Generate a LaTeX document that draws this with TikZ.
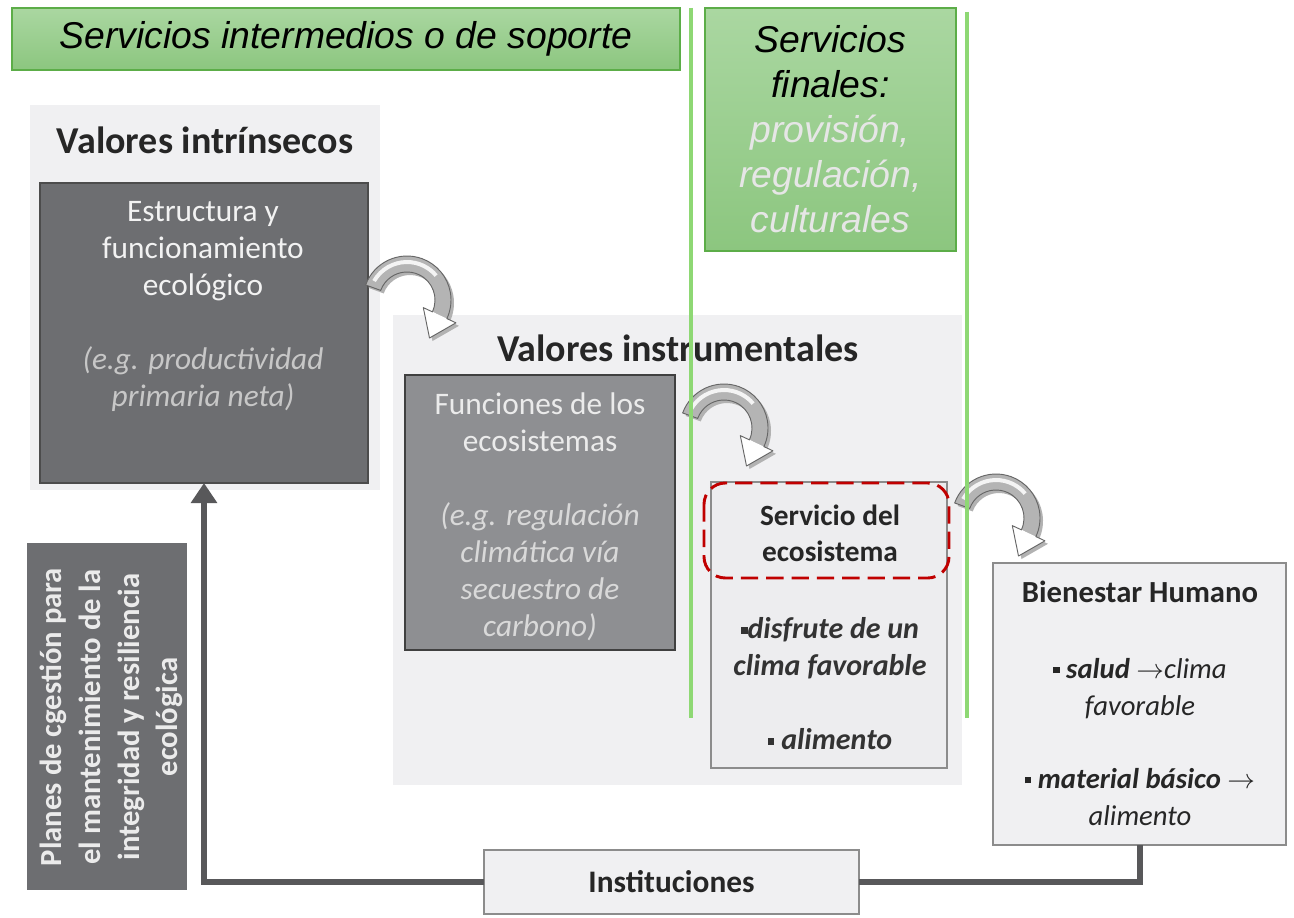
\documentclass[tikz,border=0pt]{standalone}
\usepackage{fontspec}
\setmainfont{Carlito}
\newfontfamily\arialf{Liberation Sans}
\usetikzlibrary{arrows.meta}
\definecolor{gfilltop}{HTML}{AAD7A1}
\definecolor{gfillbot}{HTML}{8CC67F}
\definecolor{gborder}{HTML}{5CAD48}
\definecolor{gline}{HTML}{8ED874}
\definecolor{darkbox}{HTML}{6D6E71}
\definecolor{midbox}{HTML}{8E8F92}
\definecolor{panelc}{HTML}{F0F0F2}
\definecolor{lightbox}{HTML}{EDEDEF}
\definecolor{connc}{HTML}{58585A}
\definecolor{redd}{HTML}{C00000}
\definecolor{palet}{HTML}{E6E6E6}
\definecolor{bandc}{HTML}{B4B4B4}
\newcommand{\sqb}{\raisebox{0.18em}{\rule{0.22em}{0.22em}}}
\begin{document}
\begin{tikzpicture}[x=0.75pt,y=-0.75pt,
  greenbox/.style={draw=gborder, line width=1.2pt, top color=gfilltop, bottom color=gfillbot,
    inner sep=0pt, outer sep=0pt, anchor=north west, align=center,
    font=\arialf\itshape\fontsize{28pt}{33.75pt}\selectfont},
  panel/.style={fill=panelc, draw=none, inner sep=0pt, outer sep=0pt, anchor=north west},
  darkrect/.style={fill=darkbox, draw=black!70, line width=0.8pt, inner sep=0pt, outer sep=0pt, anchor=north west},
  midrect/.style={fill=midbox, draw=black!75, line width=0.8pt, inner sep=0pt, outer sep=0pt, anchor=north west},
  lightrect/.style={fill=lightbox, draw=black!45, line width=1pt, inner sep=0pt, outer sep=0pt, anchor=north west},
  titletext/.style={font=\bfseries\fontsize{28.5pt}{32pt}\selectfont, inner sep=0pt, text=black!85},
  boxtext/.style={align=center, inner sep=0pt, font=\fontsize{23.5pt}{27.75pt}\selectfont},
  vline/.style={draw=gline, line width=2.4pt},
  conn/.style={draw=connc, line width=4.5pt},
  carrow/.pic={
    \begin{scope}[yscale=-1]
      \fill[black!30] ([shift={(3,-3)}]160:44) arc[start angle=160,end angle=-25,radius=44]
        -- ([shift={(3,-3)}]-25:54) -- ([shift={(3,-3)}]22.5,-38) -- ([shift={(3,-3)}]-25:18)
        -- ([shift={(3,-3)}]-25:28) arc[start angle=-25,end angle=160,radius=28] -- cycle;
      \fill[bandc] (160:44) arc[start angle=160,end angle=-25,radius=44]
        -- (-25:28) arc[start angle=-25,end angle=160,radius=28] -- cycle;
      \fill[white!85!bandc] (150:40) arc[start angle=150,end angle=40,radius=40]
        -- (40:36) arc[start angle=40,end angle=150,radius=36] -- cycle;
      \fill[white] (-25:54) -- (22.5,-38) -- (-25:18) -- cycle;
      \draw[black!60, line width=0.7pt, line join=round] (160:44) arc[start angle=160,end angle=-25,radius=44]
        -- (-25:54) -- (22.5,-38) -- (-25:18)
        -- (-25:28) arc[start angle=-25,end angle=160,radius=28] -- cycle;
    \end{scope}
  }]
\useasboundingbox (0,0) rectangle (1294,917);
\fill[white] (0,0) rectangle (1294,917);

% green headers
\node[greenbox, minimum width=668*0.75pt, minimum height=62*0.75pt] (hdrA) at (12,8) {Servicios intermedios o de soporte};
\node[greenbox, minimum width=251*0.75pt, minimum height=243*0.75pt] (hdrB) at (705,8)
  {Servicios\\finales:\\\textcolor{palet}{provisión,}\\\textcolor{palet}{regulación,}\\\textcolor{palet}{culturales}};

% panels
\node[panel, minimum width=350*0.75pt, minimum height=385*0.75pt] (panA) at (30,105) {};
\node[panel, minimum width=569*0.75pt, minimum height=470*0.75pt] (panB) at (393,315) {};
\node[titletext] (tA) at (205,140) {Valores intrínsecos};
\node[titletext] (tB) at (678,348) {Valores instrumentales};

% estructura box
\node[darkrect, minimum width=328*0.75pt, minimum height=300*0.75pt] (estr) at (40,183) {};
\node[boxtext, text=white!95!black] (estrT) at (203,306)
  {Estructura y\\funcionamiento\\ecológico\\\mbox{}\\\textcolor{black!22}{\itshape (e.g. productividad}\\\textcolor{black!22}{\itshape primaria neta)}};

% funciones box
\node[midrect, minimum width=270*0.75pt, minimum height=275*0.75pt] (func) at (405,375) {};
\node[boxtext, text=white!92!black] (funcT) at (540,516.5)
  {Funciones de los\\ecosistemas\\\mbox{}\\\textcolor{black!15}{\itshape (e.g. regulación}\\\textcolor{black!15}{\itshape climática vía}\\\textcolor{black!15}{\itshape secuestro de}\\\textcolor{black!15}{\itshape carbono)}};

% servicio box
\node[lightrect, minimum width=236*0.75pt, minimum height=286*0.75pt] (serv) at (711,482) {};
\node[align=center, inner sep=0pt, text=black!85, font=\bfseries\fontsize{22pt}{27pt}\selectfont] (servT) at (830,533) {Servicio del\\ecosistema};
\node[align=center, inner sep=0pt, font=\bfseries\itshape\fontsize{22.5pt}{27.75pt}\selectfont, text=black!80] (servL) at (830,684)
  {\sqb disfrute de un\\clima favorable\\\mbox{}\\\sqb\ alimento};
\draw[redd, line width=2.2pt, dash pattern=on 13pt off 6pt, rounded corners=16pt] (704,483) rectangle (949,578);

% bienestar box
\node[lightrect, fill=panelc, minimum width=293*0.75pt, minimum height=282*0.75pt] (bien) at (993,563) {};
\node[inner sep=0pt, text=black!85, font=\bfseries\fontsize{23pt}{27pt}\selectfont] (bienT) at (1140,592) {Bienestar Humano};
\node[align=center, inner sep=0pt, font=\itshape\fontsize{21.5pt}{27.5pt}\selectfont, text=black!85] (bienL) at (1140,742)
  {\sqb\ \textbf{salud} $\rightarrow$clima\\favorable\\\mbox{}\\\sqb\ \textbf{material básico} $\rightarrow$\\alimento};

% planes box
\node[darkrect, draw=none, minimum width=160*0.75pt, minimum height=347*0.75pt] (plan) at (27,543) {};
\node[rotate=90, align=center, inner sep=0pt, text=white!92!black, font=\bfseries\fontsize{23pt}{29pt}\selectfont] (planT) at (111.5,717)
  {Planes de cgestión para\\el mantenimiento de la\\integridad y resiliencia\\ecológica};

% instituciones box
\node[lightrect, fill=panelc, minimum width=375*0.75pt, minimum height=64*0.75pt] (inst) at (484,850) {};
\node[inner sep=0pt, text=black!85, font=\bfseries\fontsize{23.5pt}{26pt}\selectfont] (instT) at (inst.center) {Instituciones};

% connectors
\draw[conn] (bien.south) |- (inst.east);
\draw[conn, -{Triangle[length=15pt,width=19pt]}] (inst.west) -| (estr.south);

% curved arrows
\pic (arrA) at (407,300) {carrow};
\pic (arrB) at (724,428) {carrow};
\pic (arrC) at (996,518) {carrow};

% green vertical lines
\coordinate (vlA1) at (691,8);
\coordinate (vlA2) at (691,718);
\coordinate (vlB1) at (967,12);
\coordinate (vlB2) at (967,718);
\draw[vline] (vlA1) -- (vlA2);
\draw[vline] (vlB1) -- (vlB2);
\end{tikzpicture}
\end{document}
